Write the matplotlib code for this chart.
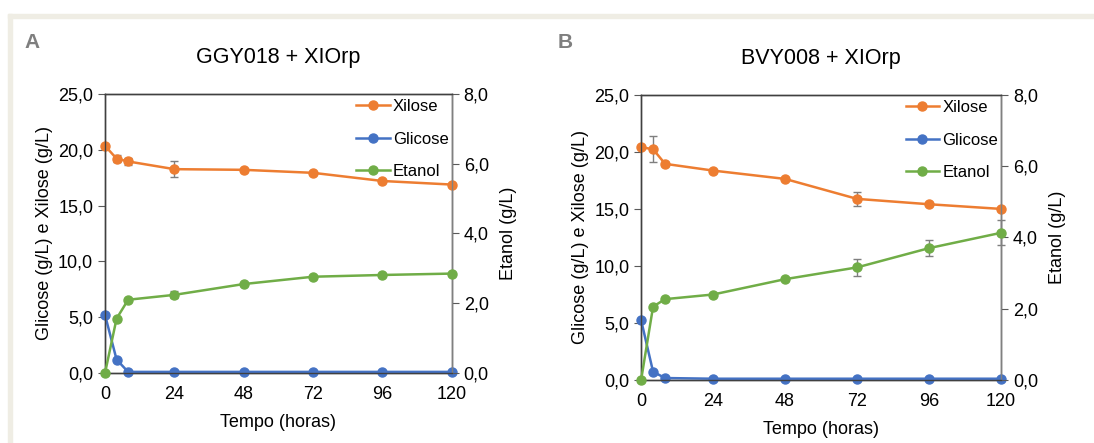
import matplotlib
matplotlib.use("Agg")
import matplotlib.pyplot as plt
from matplotlib.ticker import FuncFormatter
from matplotlib.patches import Rectangle
from matplotlib.lines import Line2D

plt.rcParams['font.family'] = ['Liberation Sans', 'DejaVu Sans']

# dados
tempo = [0, 4, 8, 24, 48, 72, 96, 120]

xil_a = [20.35, 19.2, 18.95, 18.26, 18.2, 17.93, 17.2, 16.88]
xil_a_err = [0, 0.3, 0.35, 0.7, 0, 0, 0, 0]
gli_a = [5.2, 1.2, 0.1, 0.1, 0.1, 0.1, 0.1, 0.1]
eta_a = [0, 1.56, 2.1, 2.24, 2.55, 2.76, 2.81, 2.85]
eta_a_err = [0, 0, 0, 0.1, 0, 0, 0, 0]

xil_b = [20.41, 20.23, 18.95, 18.36, 17.63, 15.88, 15.41, 15.0]
xil_b_err = [0, 1.15, 0.2, 0, 0, 0.6, 0, 0]
gli_b = [5.26, 0.73, 0.18, 0.12, 0.12, 0.12, 0.12, 0.12]
eta_b = [0, 2.06, 2.27, 2.4, 2.83, 3.16, 3.7, 4.13]
eta_b_err = [0, 0, 0, 0, 0, 0.24, 0.23, 0.35]

titulos = ['GGY018 + XIOrp', 'BVY008 + XIOrp']
letras = ['A', 'B']
series = ['Xilose', 'Glicose', 'Etanol']

cor_xil = '#ED7D31'
cor_gli = '#4472C4'
cor_eta = '#70AD47'
cores = [cor_xil, cor_gli, cor_eta]

fmt = FuncFormatter(lambda v, p: f'{v:.1f}'.replace('.', ','))

fig = plt.figure(figsize=(10.94, 4.43), dpi=100)

# moldura bege
fig.patches.append(Rectangle((8/1094, 0), 4/1094, 1 - 14/443, transform=fig.transFigure,
                             color='#EFEDE4', zorder=0))
fig.patches.append(Rectangle((8/1094, 1 - 18/443), 1, 4/443, transform=fig.transFigure,
                             color='#EFEDE4', zorder=0))

posicoes = [[0.096, 0.158, 0.317, 0.630], [0.586, 0.142, 0.329, 0.644]]
dados = [(xil_a, xil_a_err, gli_a, eta_a, eta_a_err), (xil_b, xil_b_err, gli_b, eta_b, eta_b_err)]
letra_x = [32, 565]
fs = 13

for i in range(2):
    xil, xil_err, gli, eta, eta_err = dados[i]
    ax = fig.add_axes(posicoes[i])
    ax2 = ax.twinx()

    ax.errorbar(tempo, xil, yerr=xil_err, fmt='none', ecolor='#7F7F7F', elinewidth=1,
                capsize=3, zorder=2, clip_on=False)
    ax.plot(tempo, xil, color=cor_xil, marker='o', ms=6.5, lw=1.8, zorder=3, clip_on=False)
    ax.plot(tempo, gli, color=cor_gli, marker='o', ms=6.5, lw=1.8, zorder=3, clip_on=False)
    ax2.errorbar(tempo, eta, yerr=eta_err, fmt='none', ecolor='#7F7F7F', elinewidth=1,
                 capsize=3, zorder=2, clip_on=False)
    ax2.plot(tempo, eta, color=cor_eta, marker='o', ms=6.5, lw=1.8, zorder=3, clip_on=False)

    ax.set_xlim(0, 120)
    ax.set_ylim(0, 25)
    ax2.set_ylim(0, 8)
    ax.set_xticks(tempo[:1] + tempo[3:])
    ax.set_yticks([0, 5, 10, 15, 20, 25])
    ax2.set_yticks([0, 2, 4, 6, 8])
    ax.yaxis.set_major_formatter(fmt)
    ax2.yaxis.set_major_formatter(fmt)

    ax.tick_params(axis='y', direction='out', length=5, labelsize=fs, color='#595959')
    ax.tick_params(axis='x', length=0, labelsize=fs, pad=9)
    ax2.tick_params(axis='y', direction='out', length=5, labelsize=fs, color='#595959')

    for a in (ax, ax2):
        for s in a.spines.values():
            s.set_color('#404040')
            s.set_linewidth(1)
    ax2.spines['right'].set_color('#808080')

    ax.set_xlabel('Tempo (horas)', fontsize=fs, labelpad=8)
    ax.set_ylabel('Glicose (g/L) e Xilose (g/L)', fontsize=fs, labelpad=4)
    ax2.set_ylabel('Etanol (g/L)', fontsize=fs, labelpad=8)
    ax.set_title(titulos[i], fontsize=15.5, pad=22)

    handles = [Line2D([], [], color=c, marker='o', ms=6.5, lw=1.8) for c in cores]
    ax2.legend(handles, series, loc='upper right', frameon=False, fontsize=12,
               labelspacing=1.05, handlelength=2.0, handletextpad=0.2,
               borderaxespad=0.0, bbox_to_anchor=(1.01, 1.005))

    fig.text(letra_x[i] / 1094, 1 - 42 / 443, letras[i], fontsize=15, fontweight='bold',
             color='#7F7F7F', ha='center', va='center')

fig.savefig('out.png', dpi=100, facecolor='white')
